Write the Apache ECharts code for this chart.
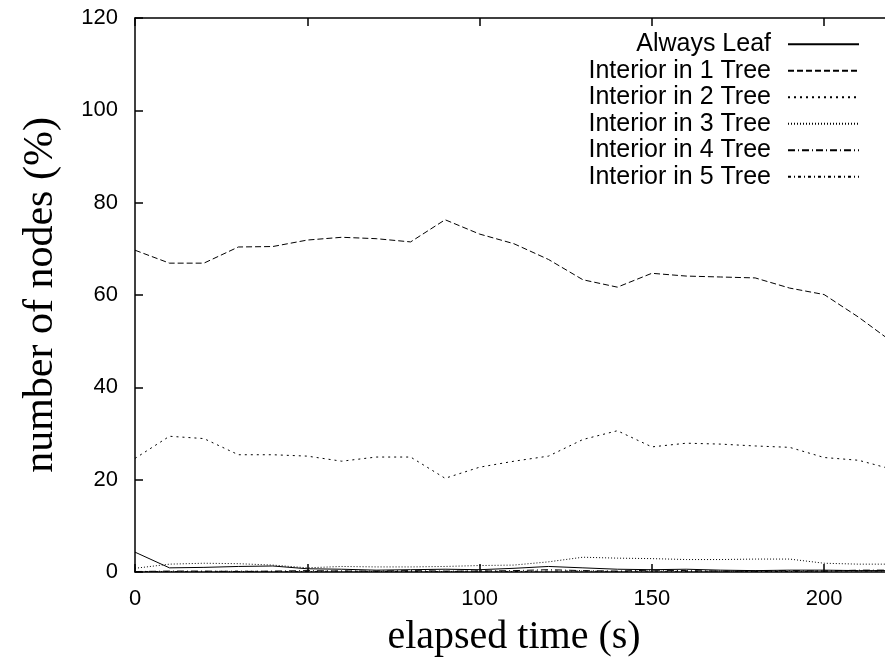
<!DOCTYPE html>
<html>
<head>
<meta charset="utf-8">
<script src="https://cdn.jsdelivr.net/npm/echarts@6/dist/echarts.min.js"></script>
<style>
  html, body { margin: 0; padding: 0; background: #fff; }
  #chart { width: 885px; height: 661px; }
</style>
</head>
<body>
<div id="chart"></div>
<script>
// elapsed time (s)
const times = [0, 10, 20, 30, 40, 50, 60, 70, 80, 90, 100, 110, 120, 130, 140, 150, 160, 170, 180, 190, 200, 210, 220];

const alwaysLeaf = [4.3, 0.9, 1.0, 1.2, 1.3, 0.7, 0.6, 0.4, 0.5, 0.6, 0.5, 0.8, 1.2, 0.9, 0.6, 0.5, 0.6, 0.4, 0.3, 0.4, 0.4, 0.3, 0.3];
const interior1 = [69.7, 66.9, 66.9, 70.4, 70.5, 71.9, 72.5, 72.2, 71.5, 76.3, 73.2, 71.1, 67.7, 63.3, 61.7, 64.7, 64.1, 63.9, 63.7, 61.5, 60.1, 55.2, 49.7];
const interior2 = [24.6, 29.4, 28.9, 25.4, 25.4, 25.1, 24.0, 24.9, 24.9, 20.3, 22.7, 24.0, 25.1, 28.7, 30.6, 27.1, 27.9, 27.7, 27.3, 27.0, 24.8, 24.2, 22.2];
const interior3 = [0.8, 1.7, 1.9, 1.8, 1.5, 0.9, 1.2, 1.1, 1.1, 1.2, 1.4, 1.5, 2.2, 3.2, 3.0, 2.9, 2.7, 2.7, 2.8, 2.8, 1.9, 1.7, 1.7];
const interior4 = [0.1, 0.2, 0.2, 0.1, 0.2, 0.3, 0.2, 0.2, 0.3, 0.2, 0.2, 0.3, 0.5, 0.3, 0.2, 0.4, 0.3, 0.2, 0.2, 0.3, 0.2, 0.4, 0.4];
const interior5 = [0.1, 0.1, 0.1, 0.2, 0.1, 0.1, 0.2, 0.1, 0.1, 0.1, 0.2, 0.1, 0.2, 0.2, 0.1, 0.2, 0.1, 0.2, 0.1, 0.1, 0.2, 0.2, 0.2];

const seriesNames = ["Always Leaf", "Interior in 1 Tree", "Interior in 2 Tree", "Interior in 3 Tree", "Interior in 4 Tree", "Interior in 5 Tree"];
const seriesValues = [alwaysLeaf, interior1, interior2, interior3, interior4, interior5];
const dashes = ["solid", [6, 3], [2, 4], [1, 2], [7, 3, 1, 3], [3, 3, 1, 3]];

const chart = echarts.init(document.getElementById("chart"));

const tickFont = { fontFamily: "Liberation Sans", fontSize: 22, color: "#000" };

function frameX(pos, labels) {
  return {
    type: "value",
    position: pos,
    min: 0,
    max: 220,
    interval: 50,
    axisLine: { show: true, onZero: false, lineStyle: { color: "#000", width: 1.5 } },
    axisTick: { show: true, inside: true, length: 8, lineStyle: { color: "#000", width: 1.5 } },
    axisLabel: labels ? Object.assign({
      margin: 16,
      showMaxLabel: false,
      formatter: function (v) { return v % 50 === 0 ? v : ""; }
    }, tickFont) : { show: false },
    splitLine: { show: false }
  };
}

function frameY(pos, labels) {
  return {
    type: "value",
    position: pos,
    min: 0,
    max: 120,
    interval: 20,
    axisLine: { show: true, onZero: false, lineStyle: { color: "#000", width: 1.5 } },
    axisTick: { show: true, inside: true, length: 8, lineStyle: { color: "#000", width: 1.5 } },
    axisLabel: labels ? Object.assign({ margin: 17 }, tickFont) : { show: false },
    splitLine: { show: false }
  };
}

const xBottom = frameX("bottom", true);
xBottom.name = "elapsed time (s)";
xBottom.nameLocation = "middle";
xBottom.nameGap = 45;
xBottom.nameTextStyle = { fontFamily: "Liberation Serif", fontSize: 40, color: "#000" };

const yLeft = frameY("left", true);
yLeft.name = "number of nodes (%)";
yLeft.nameLocation = "middle";
yLeft.nameGap = 73;
yLeft.nameTextStyle = { fontFamily: "Liberation Serif", fontSize: 42, color: "#000" };

chart.setOption({
  backgroundColor: "#fff",
  animation: false,
  grid: { left: 135, right: -8, top: 18, bottom: 89, containLabel: false, outerBoundsMode: "none" },
  legend: {
    orient: "vertical",
    right: 25,
    top: 31,
    padding: 0,
    align: "right",
    itemWidth: 71,
    itemHeight: 14,
    itemGap: 0,
    itemStyle: { opacity: 0 },
    textStyle: {
      fontFamily: "Liberation Sans",
      fontSize: 25,
      color: "#000",
      lineHeight: 26.5,
      padding: [0, 12, 0, 0]
    },
    data: seriesNames
  },
  xAxis: [xBottom, frameX("top", false)],
  yAxis: [yLeft, frameY("right", false)],
  series: seriesNames.map(function (name, i) {
    return {
      name: name,
      type: "line",
      symbol: "none",
      xAxisIndex: 0,
      yAxisIndex: 0,
      data: times.map(function (t, j) { return [t, seriesValues[i][j]]; }),
      lineStyle: { color: "#000", width: 1, type: dashes[i] },
      itemStyle: { color: "#000" }
    };
  })
});
</script>
</body>
</html>
